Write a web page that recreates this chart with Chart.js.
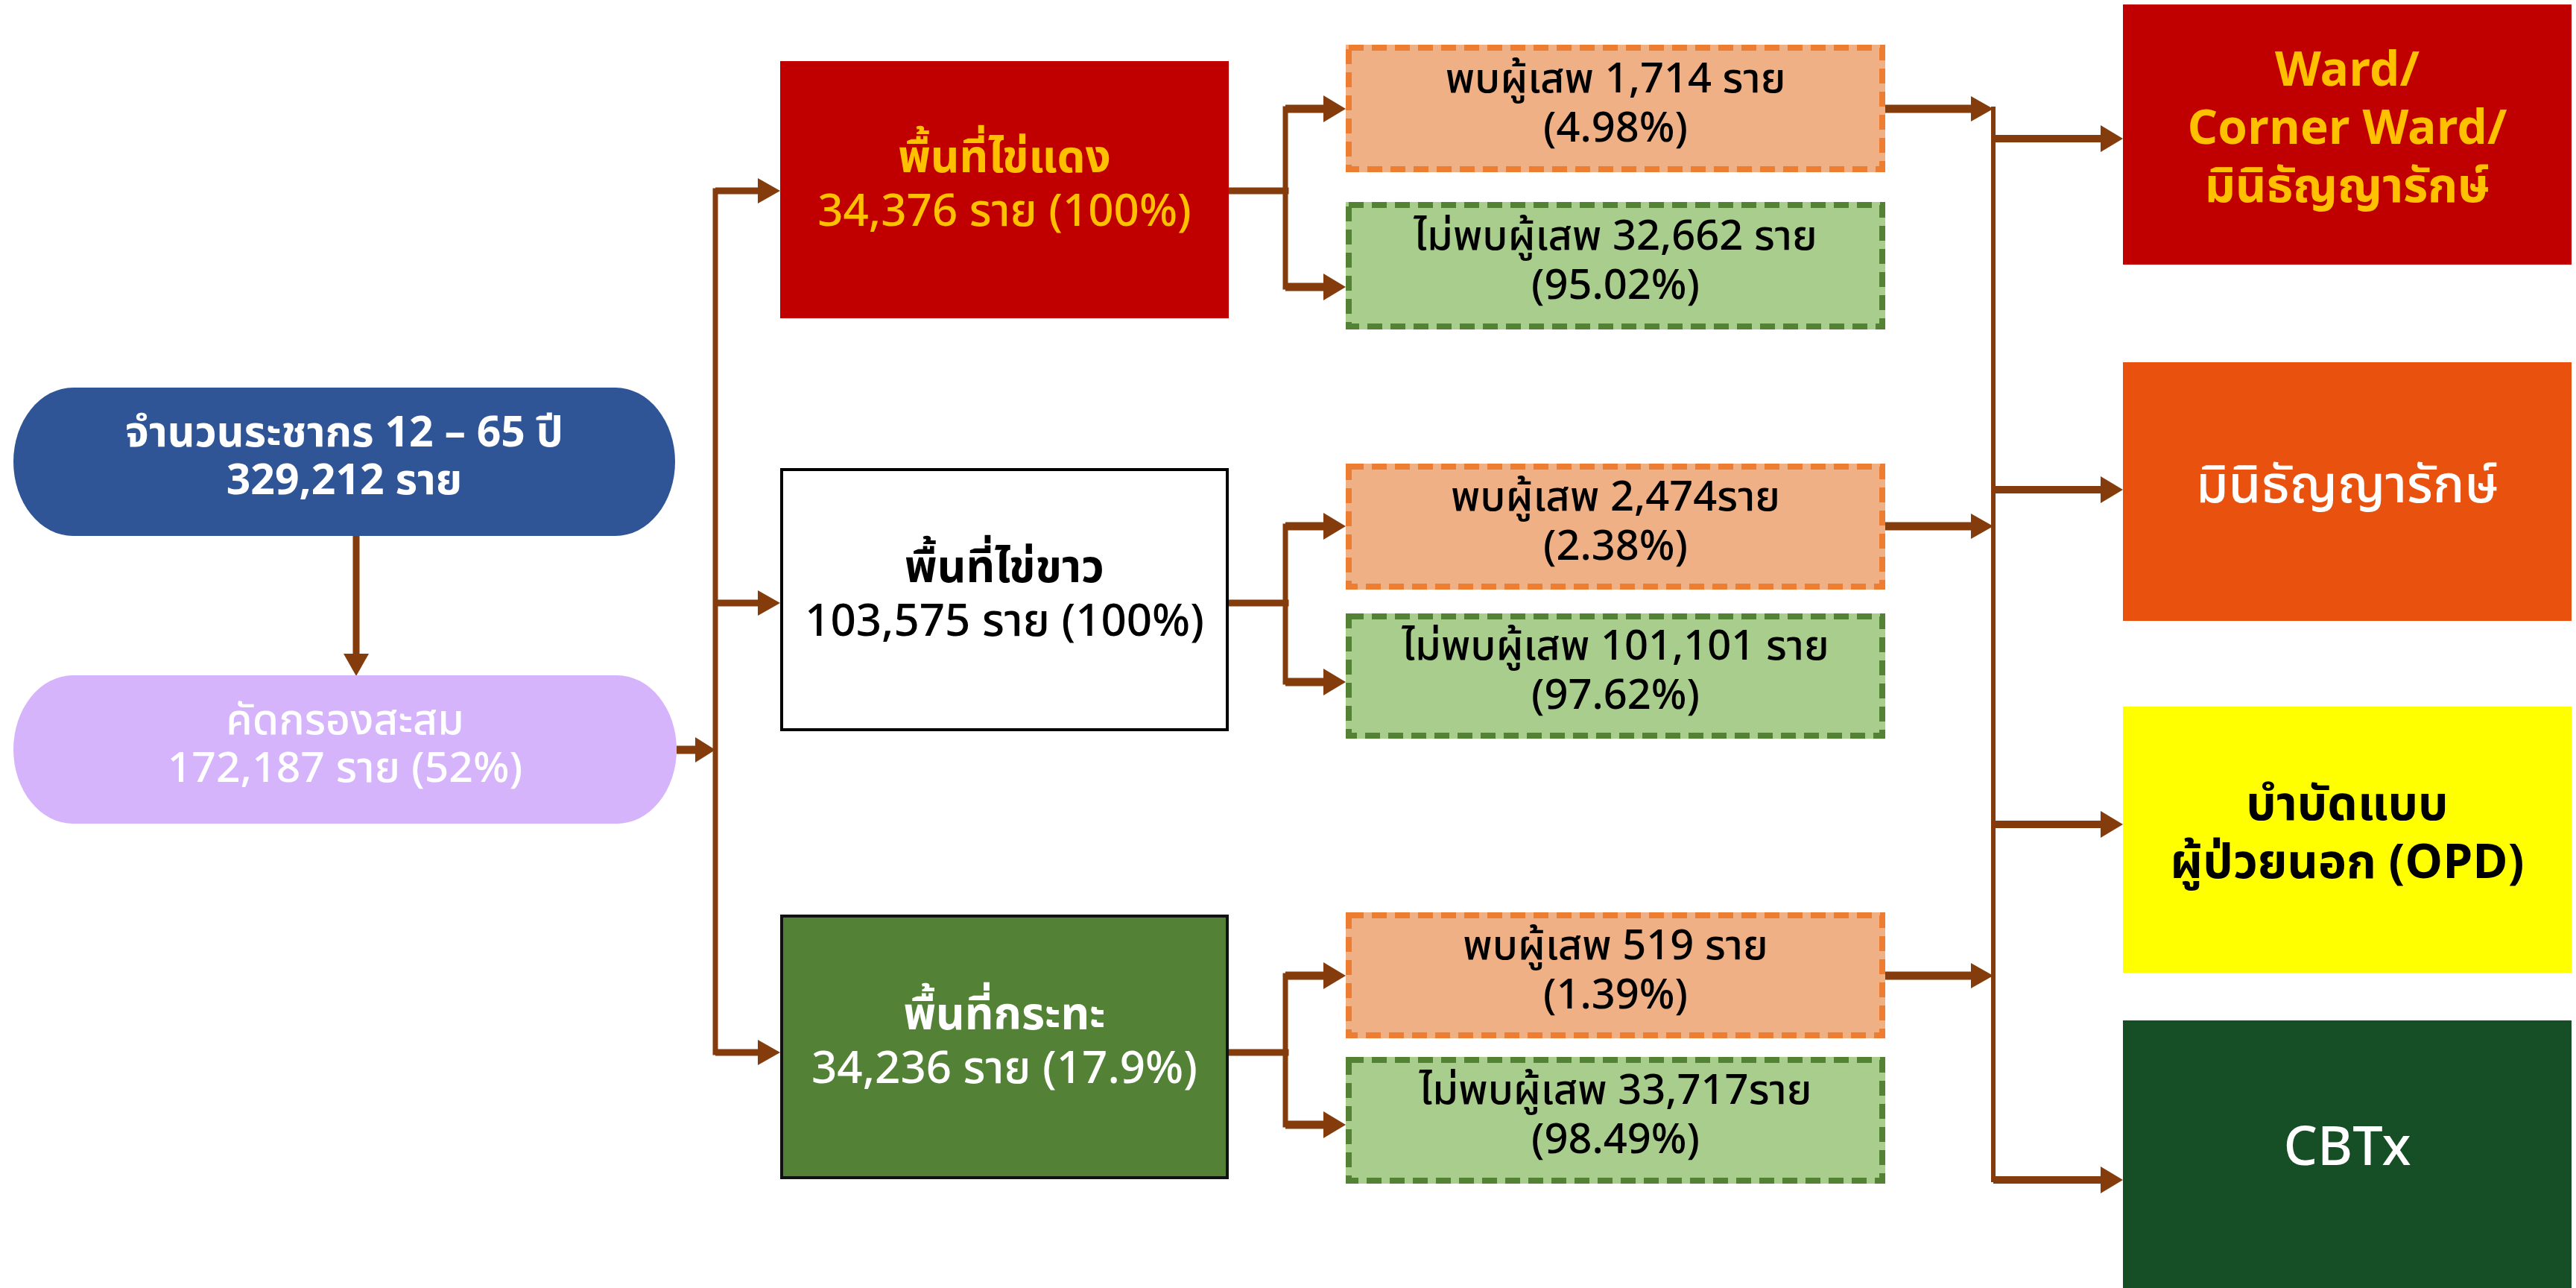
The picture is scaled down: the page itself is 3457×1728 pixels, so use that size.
<!DOCTYPE html>
<html><head><meta charset="utf-8">
<script src="https://cdn.jsdelivr.net/npm/chart.js@4"></script>
<style>html,body{margin:0;padding:0;background:#fff}#wrap{width:3457px;height:1728px}</style>
</head><body><div id="wrap"><canvas id="c" width="3457" height="1728"></canvas></div>
<script>
// ---- data (text content) ----
const populationLines = ['จำนวนระชากร 12 – 65 ปี', '329,212 ราย'];
const screenedLines = ['คัดกรองสะสม', '172,187 ราย (52%)'];
const zoneNames = ['พื้นที่ไข่แดง', 'พื้นที่ไข่ขาว', 'พื้นที่กระทะ'];
const zoneCounts = ['34,376 ราย (100%)', '103,575 ราย (100%)', '34,236 ราย (17.9%)'];
const positiveLines = [['พบผู้เสพ 1,714 ราย', '(4.98%)'], ['พบผู้เสพ 2,474ราย', '(2.38%)'], ['พบผู้เสพ 519 ราย', '(1.39%)']];
const negativeLines = [['ไม่พบผู้เสพ 32,662 ราย', '(95.02%)'], ['ไม่พบผู้เสพ 101,101 ราย', '(97.62%)'], ['ไม่พบผู้เสพ 33,717ราย', '(98.49%)']];
const treatmentLines = [['Ward/', 'Corner Ward/', 'มินิธัญญารักษ์'], ['มินิธัญญารักษ์'], ['บำบัดแบบ', 'ผู้ป่วยนอก (OPD)'], ['CBTx']];

// ---- layout (diagram coordinates, chart units) ----
const FONT = '"Noto Sans Thai","Noto Sans Thai Looped","Noto Sans","DejaVu Sans",sans-serif';
const pillBoxes = [[18, 520, 906, 719], [18, 906, 908, 1105]];
const zoneBoxes = [[1047, 82, 1649, 427], [1047, 628, 1649, 981], [1047, 1227, 1649, 1582]];
const posBoxes = [[1806, 60, 2530, 231], [1806, 622, 2530, 791], [1806, 1224, 2530, 1393]];
const negBoxes = [[1806, 271, 2530, 442], [1806, 823, 2530, 991], [1806, 1418, 2530, 1588]];
const treatBoxes = [[2849, 6, 3451, 355], [2849, 486, 3451, 833], [2849, 948, 3451, 1305], [2849, 1369, 3451, 1728]];
const zoneBranchY = [256, 809, 1412];
const posArrowY = [146, 706, 1309];
const negArrowY = [385, 915, 1509];
const treatArrowY = [186, 657, 1106, 1583];
const trunkLeftX = 960, branchX = 1725, trunkRightX = 2675;

const styles = {
  pill: [{fill: '#2F5597', text: '#FFFFFF', bold: [true, true]}, {fill: '#D5B4FB', text: '#FFFFFF', bold: [false, false]}],
  zone: [{fill: '#C00000', text: '#FFC000', stroke: null}, {fill: '#FFFFFF', text: '#000000', stroke: '#000000'}, {fill: '#538135', text: '#FFFFFF', stroke: '#111111'}],
  pos: {fill: '#EFB086', stroke: '#ED7D31'},
  neg: {fill: '#A8CD8C', stroke: '#548235'},
  treat: [{fill: '#C00000', text: '#FFC000', bold: true, size: 64}, {fill: '#E9510E', text: '#FFFFFF', bold: false, size: 70}, {fill: '#FFFF00', text: '#000000', bold: true, size: 64}, {fill: '#164F25', text: '#FFFFFF', bold: false, size: 72}],
  arrow: '#843C0C'
};

const diagramPlugin = {
  id: 'diagram',
  afterDraw(chart) {
    const ctx = chart.ctx, xs = chart.scales.x, ys = chart.scales.y;
    const X = v => xs.getPixelForValue(v), Y = v => ys.getPixelForValue(v);
    const rect = b => [X(b[0]), Y(b[1]), X(b[2]) - X(b[0]), Y(b[3]) - Y(b[1])];

    function text(lines, b, color, size, bolds, gap) {
      const [x, y, w, h] = rect(b);
      const cx = x + w / 2, cy = y + h / 2;
      ctx.fillStyle = color; ctx.textAlign = 'center'; ctx.textBaseline = 'middle';
      const n = lines.length;
      lines.forEach((t, i) => {
        const bold = Array.isArray(bolds) ? bolds[i] : bolds;
        ctx.font = (bold ? '700 ' : '500 ') + size + 'px ' + FONT;
        ctx.fillText(t, cx, cy + (i - (n - 1) / 2) * gap);
      });
    }
    function box(b, fill, stroke, lw, dash) {
      const [x, y, w, h] = rect(b);
      ctx.save();
      ctx.fillStyle = fill; ctx.fillRect(x, y, w, h);
      if (stroke) {
        ctx.strokeStyle = stroke; ctx.lineWidth = lw; ctx.setLineDash(dash || []);
        ctx.strokeRect(x + lw / 2, y + lw / 2, w - lw, h - lw);
      }
      ctx.restore();
    }
    function pill(b, fill) {
      const [x, y, w, h] = rect(b);
      const rx = 80, ry = h / 2;
      ctx.save(); ctx.fillStyle = fill; ctx.beginPath();
      ctx.moveTo(x + rx, y); ctx.lineTo(x + w - rx, y);
      ctx.ellipse(x + w - rx, y + ry, rx, ry, 0, -Math.PI / 2, Math.PI / 2);
      ctx.lineTo(x + rx, y + h);
      ctx.ellipse(x + rx, y + ry, rx, ry, 0, Math.PI / 2, Math.PI * 1.5);
      ctx.closePath(); ctx.fill(); ctx.restore();
    }
    function line(x1, y1, x2, y2, lw) {
      ctx.save(); ctx.strokeStyle = styles.arrow; ctx.lineWidth = lw; ctx.lineCap = 'square';
      ctx.beginPath(); ctx.moveTo(X(x1), Y(y1)); ctx.lineTo(X(x2), Y(y2)); ctx.stroke(); ctx.restore();
    }
    function arrow(x1, y1, x2, y2, lw, hl, hw) {
      const px1 = X(x1), py1 = Y(y1), px2 = X(x2), py2 = Y(y2);
      const ang = Math.atan2(py2 - py1, px2 - px1);
      const bx = px2 - Math.cos(ang) * hl, by = py2 - Math.sin(ang) * hl;
      ctx.save(); ctx.strokeStyle = styles.arrow; ctx.fillStyle = styles.arrow; ctx.lineWidth = lw;
      ctx.beginPath(); ctx.moveTo(px1, py1); ctx.lineTo(bx + Math.cos(ang), by + Math.sin(ang)); ctx.stroke();
      ctx.beginPath(); ctx.moveTo(px2, py2);
      ctx.lineTo(bx - Math.sin(ang) * hw / 2, by + Math.cos(ang) * hw / 2);
      ctx.lineTo(bx + Math.sin(ang) * hw / 2, by - Math.cos(ang) * hw / 2);
      ctx.closePath(); ctx.fill(); ctx.restore();
    }

    // connectors
    arrow(478, 719, 478, 907, 9, 30, 34);
    arrow(908, 1006, 960, 1006, 11, 27, 34);
    line(trunkLeftX, zoneBranchY[0], trunkLeftX, zoneBranchY[2], 7);
    zoneBranchY.forEach(y => arrow(trunkLeftX, y, 1047, y, 9, 30, 34));
    zoneBranchY.forEach((y, i) => {
      line(1649, y, branchX, y, 9);
      line(branchX, posArrowY[i], branchX, negArrowY[i], 7);
      arrow(branchX, posArrowY[i], 1806, posArrowY[i], 11, 30, 36);
      arrow(branchX, negArrowY[i], 1806, negArrowY[i], 11, 30, 36);
      arrow(2530, posArrowY[i], trunkRightX, posArrowY[i], 11, 30, 34);
    });
    line(trunkRightX, posArrowY[0], trunkRightX, treatArrowY[3], 6);
    treatArrowY.forEach(y => arrow(trunkRightX, y, 2849, y, 10, 30, 36));

    // nodes
    pill(pillBoxes[0], styles.pill[0].fill);
    text(populationLines, pillBoxes[0], styles.pill[0].text, 57, styles.pill[0].bold, 64);
    pill(pillBoxes[1], styles.pill[1].fill);
    text(screenedLines, pillBoxes[1], styles.pill[1].text, 57, styles.pill[1].bold, 64);

    zoneBoxes.forEach((b, i) => {
      const s = styles.zone[i];
      box(b, s.fill, s.stroke, 4);
      text([zoneNames[i], zoneCounts[i]], b, s.text, 60, [true, false], 72);
    });
    posBoxes.forEach((b, i) => {
      box(b, styles.pos.fill, styles.pos.stroke, 8, [20, 11]);
      text(positiveLines[i], b, '#000000', 56, false, 66);
    });
    negBoxes.forEach((b, i) => {
      box(b, styles.neg.fill, styles.neg.stroke, 8, [20, 11]);
      text(negativeLines[i], b, '#000000', 56, false, 66);
    });
    treatBoxes.forEach((b, i) => {
      const s = styles.treat[i];
      box(b, s.fill, null, 0);
      text(treatmentLines[i], b, s.text, s.size, s.bold, 78);
    });
  }
};

new Chart(document.getElementById('c'), {
  type: 'scatter',
  data: { datasets: [{ data: [], pointRadius: 0 }] },
  options: {
    responsive: false, animation: false, devicePixelRatio: 1,
    layout: { padding: 0 },
    plugins: { legend: { display: false }, tooltip: { enabled: false } },
    scales: {
      x: { type: 'linear', min: 0, max: 3457, display: false },
      y: { type: 'linear', min: 0, max: 1728, reverse: true, display: false }
    }
  },
  plugins: [diagramPlugin]
});
</script></body></html>
